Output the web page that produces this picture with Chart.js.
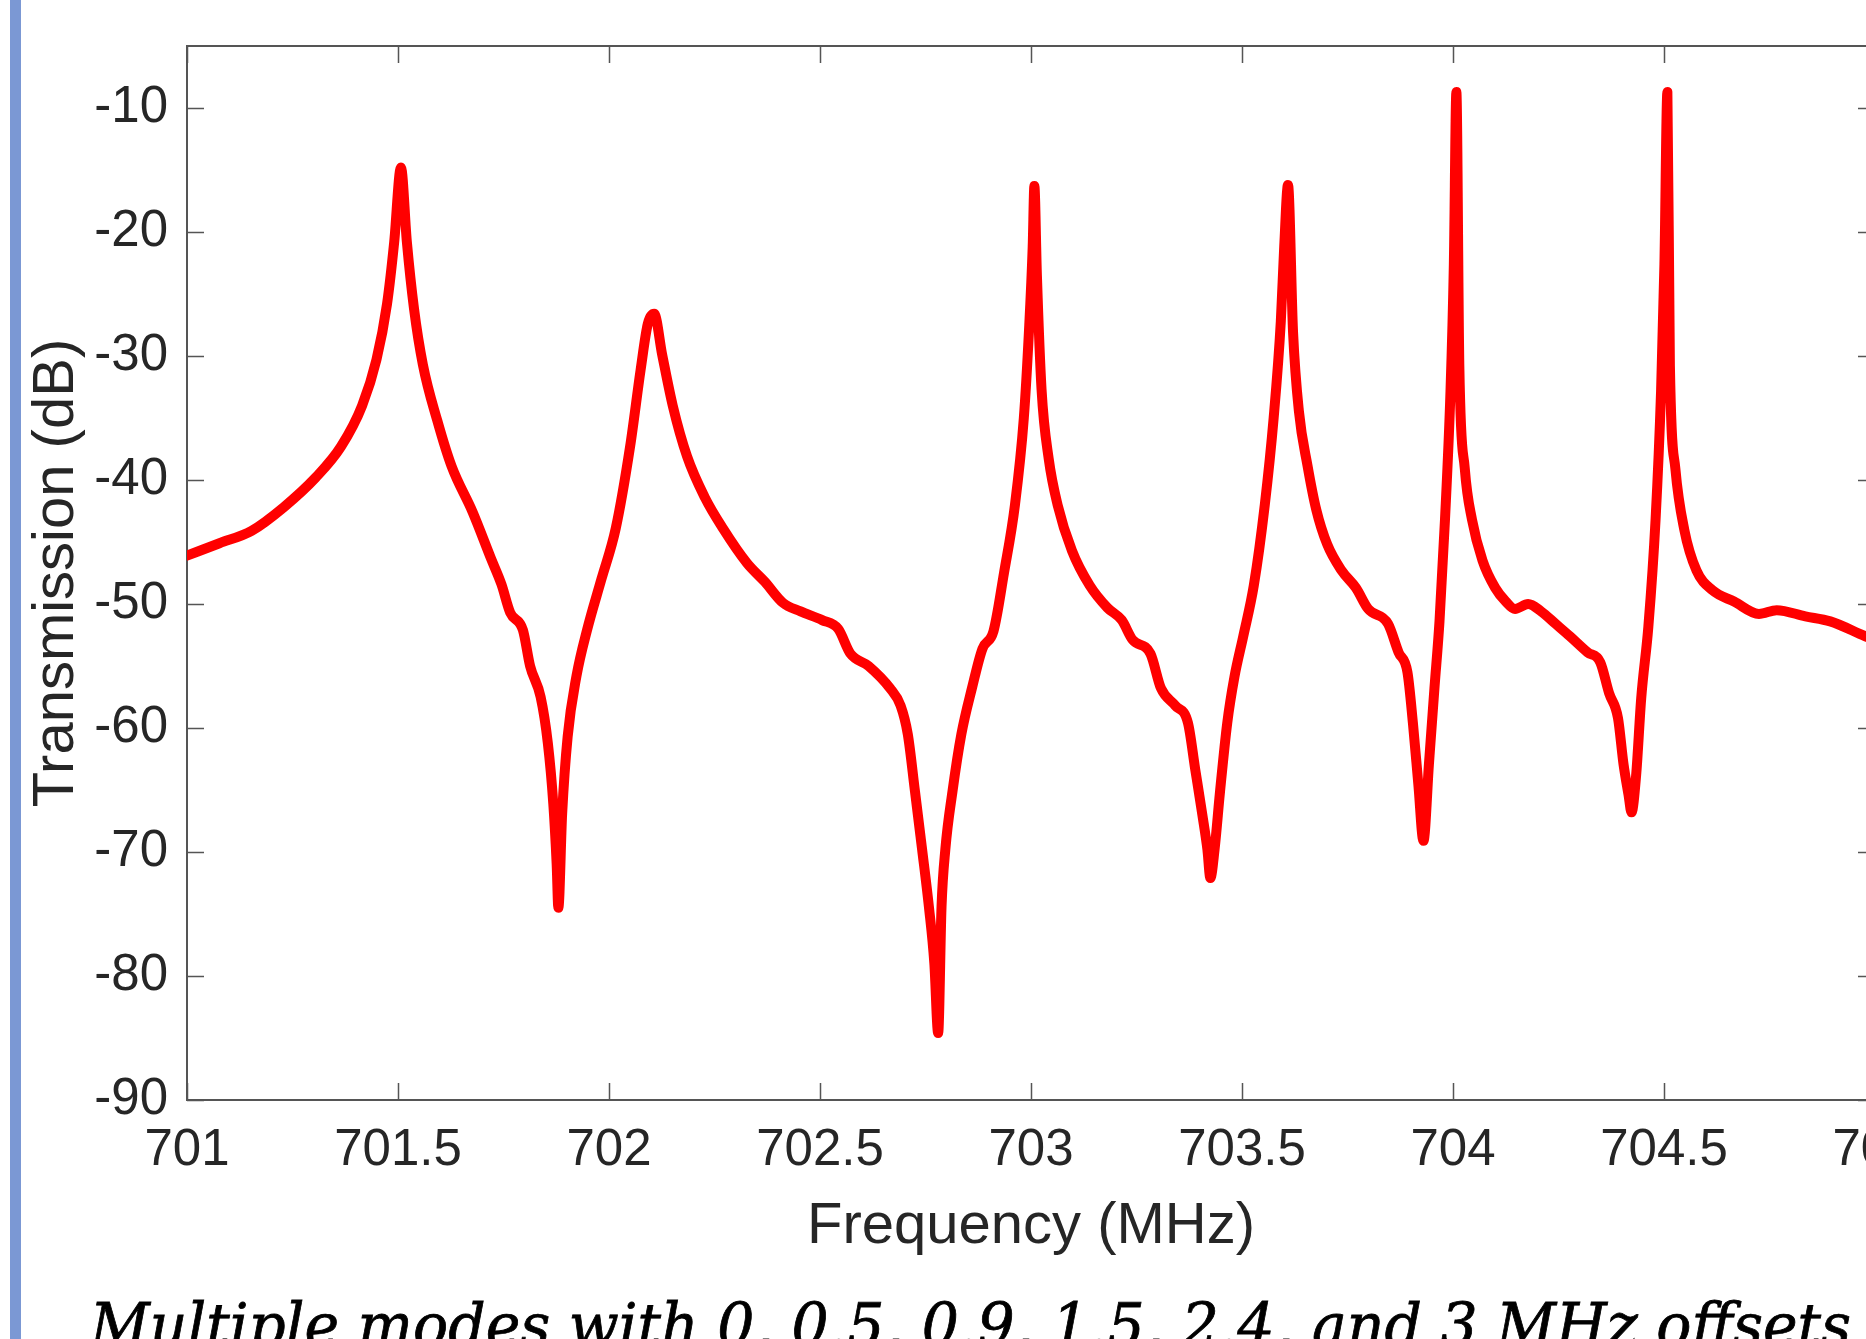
<!DOCTYPE html>
<html>
<head>
<meta charset="utf-8">
<script src="https://cdn.jsdelivr.net/npm/chart.js@4.4.1/dist/chart.umd.min.js"></script>
<style>
  html, body { margin: 0; padding: 0; background: #ffffff; overflow: hidden; width: 1866px; height: 1339px; }
  #wrap { position: relative; width: 1866px; height: 1339px; overflow: hidden; }
  #bar { position: absolute; left: 10px; top: 0; width: 11px; height: 1339px; background: #7b98d4; }
  #chart { position: absolute; left: 0; top: 0; }
  #caption { position: absolute; left: 90px; white-space: nowrap; font-family: "DejaVu Serif", "Liberation Serif", serif; font-style: italic; color: #000; transform-origin: 0 0; -webkit-text-stroke: 0.8px #000; }
</style>
</head>
<body>
<div id="wrap">
  <div id="bar"></div>
  <canvas id="chart" width="1900" height="1339"></canvas>
  <div id="caption"></div>
</div>
<script>
// ---- data ----
const freqMHz = [
  701.000, 701.077, 701.153, 701.229, 701.305, 701.365, 701.415, 701.449, 701.474, 701.491,
  701.507, 701.521, 701.538, 701.559, 701.593, 701.627, 701.677, 701.720, 701.745, 701.766,
  701.796, 701.813, 701.838, 701.855, 701.868, 701.876, 701.880, 701.889, 701.902, 701.923,
  701.948, 701.982, 702.016, 702.050, 702.075, 702.092, 702.107, 702.126, 702.151, 702.185,
  702.227, 702.270, 702.327, 702.369, 702.412, 702.454, 702.505, 702.543, 702.572, 702.615,
  702.666, 702.691, 702.708, 702.725, 702.742, 702.758, 702.771, 702.780, 702.788, 702.797,
  702.814, 702.835, 702.860, 702.885, 702.911, 702.936, 702.962, 702.983, 702.995, 703.004,
  703.008, 703.014, 703.025, 703.042, 703.063, 703.097, 703.139, 703.181, 703.215, 703.241,
  703.283, 703.308, 703.342, 703.372, 703.389, 703.406, 703.418, 703.425, 703.435, 703.448,
  703.465, 703.482, 703.503, 703.528, 703.554, 703.575, 703.592, 703.600, 703.609, 703.621,
  703.635, 703.655, 703.676, 703.702, 703.736, 703.770, 703.799, 703.846, 703.871, 703.892,
  703.905, 703.918, 703.930, 703.943, 703.956, 703.968, 703.981, 703.994, 704.002, 704.008,
  704.015, 704.028, 704.045, 704.070, 704.100, 704.125, 704.147, 704.178, 704.209, 704.243,
  704.277, 704.319, 704.349, 704.370, 704.391, 704.404, 704.416, 704.423, 704.434, 704.446,
  704.463, 704.480, 704.493, 704.501, 704.508, 704.514, 704.527, 704.548, 704.577, 704.615,
  704.666, 704.725, 704.767, 704.835, 704.894, 704.977, 705.000
];
const transmissionDb = [
  -46.1, -45.1, -44.1, -42.2, -39.8, -37.3, -34.0, -30.3, -25.8, -20.8,
  -14.8, -20.8, -26.2, -30.7, -35.2, -38.9, -42.6, -46.3, -48.4, -50.7,
  -52.1, -55.0, -57.5, -61.2, -66.1, -71.0, -74.5, -66.9, -60.7, -55.8,
  -52.1, -48.0, -43.9, -37.3, -31.1, -27.4, -26.6, -29.9, -34.0, -38.1,
  -41.4, -43.9, -46.7, -48.2, -49.9, -50.6, -51.3, -52.0, -54.0, -55.0,
  -56.8, -58.2, -60.5, -65.1, -69.8, -74.4, -79.0, -84.6, -74.4, -69.8,
  -65.1, -60.5, -56.8, -53.6, -52.2, -47.5, -42.0, -35.0, -28.1, -21.2,
  -16.3, -23.5, -32.7, -38.3, -42.0, -45.7, -48.5, -50.3, -51.3, -52.9,
  -54.0, -56.8, -58.2, -59.6, -63.3, -67.0, -69.8, -72.1, -69.8, -65.1,
  -59.6, -55.9, -52.6, -48.5, -42.0, -35.0, -27.2, -21.2, -16.2, -28.1,
  -34.5, -38.8, -42.4, -45.2, -47.3, -48.7, -50.4, -51.6, -53.9, -55.5,
  -59.6, -64.6, -69.1, -62.9, -56.8, -51.4, -43.2, -32.9, -22.6, -8.7,
  -30.8, -39.1, -43.2, -46.5, -48.7, -49.8, -50.4, -50.0, -50.6, -51.6,
  -52.6, -53.9, -54.7, -57.2, -59.2, -62.9, -65.4, -66.8, -63.8, -57.6,
  -51.8, -43.2, -32.9, -22.6, -8.7, -30.8, -39.1, -44.0, -47.3, -48.9,
  -49.8, -50.8, -50.5, -51.0, -51.4, -52.6, -52.9
];
const xTickValues = [701, 701.5, 702, 702.5, 703, 703.5, 704, 704.5, 705];
const yTickValues = [-90, -80, -70, -60, -50, -40, -30, -20, -10];
const xAxisTitle = 'Frequency (MHz)';
const yAxisTitle = 'Transmission (dB)';
const captionText = 'Multiple modes with 0, 0.5, 0.9, 1.5, 2.4, and 3 MHz offsets';

// ---- styling ----
const AXIS_COLOR = '#555555';
const TEXT_COLOR = '#262626';
const TICK_LEN = 17;
const SANS = "'Liberation Sans', Arial, Helvetica, sans-serif";

const points = freqMHz.map((f, i) => ({ x: f, y: transmissionDb[i] }));

const boxPlugin = {
  id: 'matlabBox',
  beforeDatasetsDraw(chart) {
    const { ctx, chartArea: a, scales: { x, y } } = chart;
    ctx.save();
    ctx.strokeStyle = AXIS_COLOR;
    ctx.lineWidth = 2;
    ctx.beginPath();
    ctx.moveTo(a.left, a.top);
    ctx.lineTo(a.right, a.top);
    ctx.lineTo(a.right, a.bottom);
    ctx.stroke();
    ctx.lineWidth = 1.5;
    ctx.beginPath();
    x.ticks.forEach(t => {
      const px = Math.round(x.getPixelForValue(t.value)) + 0.5;
      ctx.moveTo(px, a.bottom); ctx.lineTo(px, a.bottom - TICK_LEN);
      ctx.moveTo(px, a.top); ctx.lineTo(px, a.top + TICK_LEN);
    });
    y.ticks.forEach(t => {
      const py = Math.round(y.getPixelForValue(t.value)) + 0.5;
      ctx.moveTo(a.left, py); ctx.lineTo(a.left + TICK_LEN, py);
      ctx.moveTo(a.right, py); ctx.lineTo(a.right - TICK_LEN, py);
    });
    ctx.stroke();
    ctx.restore();
  }
};

const W = 1900, H = 1339;
new Chart(document.getElementById('chart'), {
  type: 'line',
  data: {
    datasets: [{
      data: points,
      borderColor: '#ff0000',
      borderWidth: 10,
      pointRadius: 0,
      cubicInterpolationMode: 'monotone',
      fill: false,
      borderJoinStyle: 'round',
      borderCapStyle: 'round'
    }]
  },
  options: {
    responsive: false,
    animation: false,
    devicePixelRatio: 1,
    layout: { padding: { left: 0, top: 46, right: W - 1875, bottom: H - 1100 - 170 } },
    plugins: { legend: { display: false }, tooltip: { enabled: false } },
    scales: {
      x: {
        type: 'linear',
        position: 'bottom',
        min: 701,
        max: 705,
        afterBuildTicks: s => { s.ticks = xTickValues.map(v => ({ value: v })); },
        afterFit: s => { s.height = 170; s.paddingLeft = 0; s.paddingRight = 0; },
        ticks: {
          autoSkip: false,
          maxRotation: 0,
          minRotation: 0,
          padding: 20,
          color: TEXT_COLOR,
          font: { family: SANS, size: 51 },
          callback: v => String(v)
        },
        grid: { display: false, drawTicks: false },
        border: { display: true, color: AXIS_COLOR, width: 2 },
        title: {
          display: true,
          text: xAxisTitle,
          color: TEXT_COLOR,
          font: { family: SANS, size: 58 },
          padding: { top: 0, bottom: 8 }
        }
      },
      y: {
        type: 'linear',
        position: 'left',
        min: -90,
        max: -5,
        afterBuildTicks: s => { s.ticks = yTickValues.map(v => ({ value: v })); },
        afterFit: s => { s.width = 187; s.paddingTop = 0; s.paddingBottom = 0; },
        ticks: {
          autoSkip: false,
          padding: 19,
          color: TEXT_COLOR,
          font: { family: SANS, size: 51 },
          callback: v => String(v)
        },
        grid: { display: false, drawTicks: false },
        border: { display: true, color: AXIS_COLOR, width: 2 },
        title: {
          display: true,
          text: yAxisTitle,
          color: TEXT_COLOR,
          font: { family: SANS, size: 58 },
          padding: { top: 22, bottom: 0 }
        }
      }
    }
  },
  plugins: [boxPlugin]
});

// caption below the chart (cut off by the bottom edge, as in the reference)
(function () {
  const cap = document.getElementById('caption');
  const size = 60;
  const fam = '"DejaVu Serif", "Liberation Serif", serif';
  cap.textContent = captionText;
  cap.style.fontSize = size + 'px';
  const c = document.createElement('canvas').getContext('2d');
  c.font = 'italic ' + size + 'px ' + fam;
  const m = c.measureText(captionText);
  const asc = m.fontBoundingBoxAscent || size * 0.93;
  const desc = m.fontBoundingBoxDescent || size * 0.24;
  cap.style.lineHeight = (asc + desc) + 'px';
  const baseline = 1346;
  cap.style.top = (baseline - asc) + 'px';
  const targetWidth = 1761;
  const w = m.width || cap.getBoundingClientRect().width;
  cap.style.transform = 'scaleX(' + (targetWidth / w) + ')';
})();
</script>
</body>
</html>
